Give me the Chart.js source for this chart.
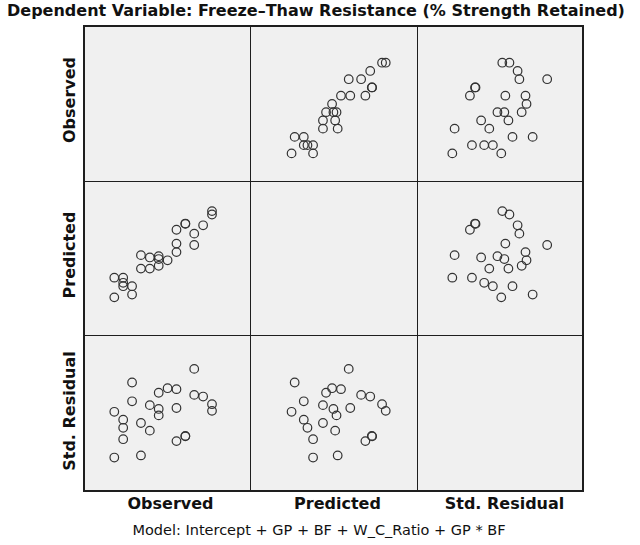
<!DOCTYPE html>
<html>
<head>
<meta charset="utf-8">
<script src="https://cdn.jsdelivr.net/npm/chart.js@4"></script>
<style>
  body { margin: 0; background: #fff; }
  #wrap { position: relative; width: 640px; height: 545px; font-family: "DejaVu Sans", sans-serif; color: #111; }
  .txt { position: absolute; white-space: nowrap; }
  .bold { font-weight: bold; }
  #grid { position: absolute; left: 83px; top: 25px; width: 501px; height: 467px; background: #1e1e1e; }
  .panel { position: absolute; background: #f0f0f0; }
</style>
</head>
<body>
<div id="wrap">
  <div class="txt bold" id="title" style="left:7px; top:1px; font-size:16px;">Dependent Variable: Freeze–Thaw Resistance (% Strength Retained)</div>
  <div id="grid"></div>
  <div class="txt" id="footer" style="left:319px; top:522px; font-size:14.5px; transform:translateX(-50%);">Model: Intercept + GP + BF + W_C_Ratio + GP * BF</div>
</div>
<script>
// one entry per case (25 cases)
const observed = [30, 30, 35, 35, 35, 40, 40, 45, 45, 50, 50, 55, 55, 55, 60,
                  65, 65, 65, 70, 70, 75, 75, 80, 85, 85];
const predicted = [38.1, 49.2, 44.4, 46.3, 49.2, 39.7, 44.4, 54.3, 61.9, 54.3, 60.6, 55.9, 59.7, 61.3, 59.0,
                   63.6, 68.4, 76.2, 79.5, 79.7, 67.6, 74.0, 78.7, 84.8, 86.7];
const stdResidual = [0.05, -1.87, -0.28, -0.62, -1.10, 1.28, 0.49, -0.42, -1.78, 0.33, -0.74, 0.85, 0.17, -0.10, 1.04,
                     1.00, 0.21, -1.18, -0.96, -0.98, 1.85, 0.76, 0.69, 0.37, 0.09];

const varNames = ["Observed", "Predicted", "Std. Residual"];
const varData = [observed, predicted, stdResidual];
const varMin = [16.6, 20, -3];
const varMax = [103.3, 100, 3];

// panel layout
const colEdges = [83, 250, 417, 584];
const rowEdges = [25, 181, 335, 492];

const wrap = document.getElementById("wrap");
const grid = document.getElementById("grid");

for (let r = 0; r < 3; r++) {
    for (let c = 0; c < 3; c++) {
        let left = colEdges[c] + (c === 0 ? 2 : 1);
        let right = colEdges[c + 1] - (c === 2 ? 2 : 0);
        let top = rowEdges[r] + (r === 0 ? 2 : 1);
        let bottom = rowEdges[r + 1] - (r === 2 ? 2 : 0);

        let panel = document.createElement("div");
        panel.className = "panel";
        panel.style.left = (left - colEdges[0]) + "px";
        panel.style.top = (top - rowEdges[0]) + "px";
        panel.style.width = (right - left) + "px";
        panel.style.height = (bottom - top) + "px";
        grid.appendChild(panel);

        if (r === c) continue;   // diagonal stays empty

        let canvas = document.createElement("canvas");
        canvas.width = right - left;
        canvas.height = bottom - top;
        panel.appendChild(canvas);

        let xs = varData[c];
        let ys = varData[r];

        new Chart(canvas, {
            type: "scatter",
            data: {
                datasets: [{
                    data: xs.map((v, i) => ({ x: v, y: ys[i] })),
                    pointRadius: 4.3,
                    pointBorderWidth: 1.2,
                    borderColor: "#333",
                    backgroundColor: "rgba(0,0,0,0)"
                }]
            },
            options: {
                responsive: false,
                animation: false,
                layout: { padding: 0 },
                plugins: { legend: { display: false }, tooltip: { enabled: false } },
                scales: {
                    x: { type: "linear", display: false, min: varMin[c], max: varMax[c] },
                    y: { type: "linear", display: false, min: varMin[r], max: varMax[r] }
                }
            }
        });
    }
}

// row labels (rotated) and column labels
for (let i = 0; i < 3; i++) {
    let rowMid = (rowEdges[i] + rowEdges[i + 1]) / 2 - 3;
    let lab = document.createElement("div");
    lab.className = "txt bold";
    lab.style.fontSize = "16px";
    lab.textContent = varNames[i];
    lab.style.left = "69px";
    lab.style.top = rowMid + "px";
    lab.style.transform = "translate(-50%, -50%) rotate(-90deg)";
    wrap.appendChild(lab);

    let colMid = (colEdges[i] + colEdges[i + 1]) / 2 + 4;
    let cl = document.createElement("div");
    cl.className = "txt bold";
    cl.style.fontSize = "16px";
    cl.textContent = varNames[i];
    cl.style.left = colMid + "px";
    cl.style.top = "503px";
    cl.style.transform = "translate(-50%, -50%)";
    wrap.appendChild(cl);
}
</script>
</body>
</html>
